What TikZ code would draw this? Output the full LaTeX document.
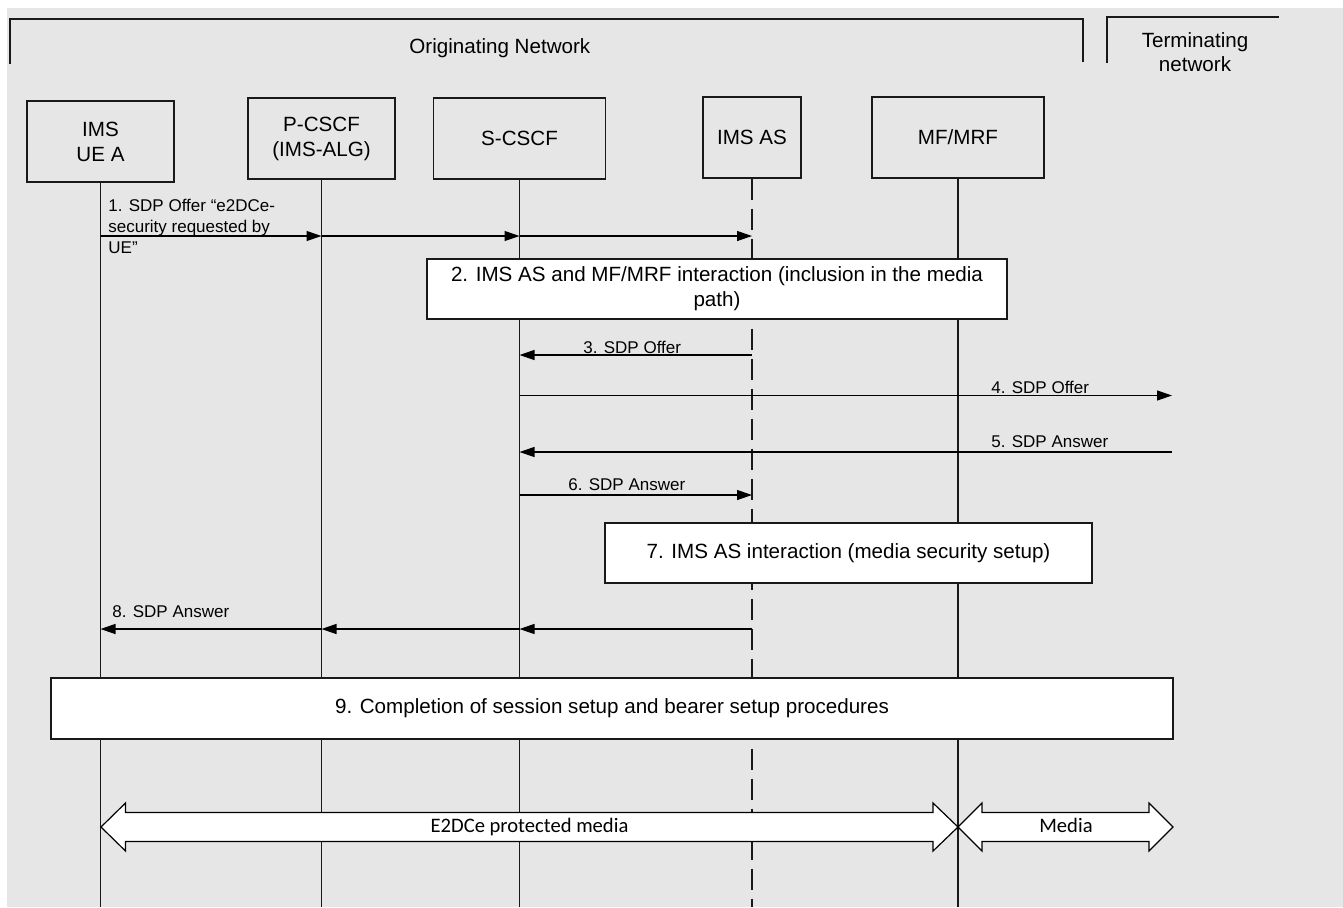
\documentclass[tikz,border=0pt]{standalone}
\usepackage{fontspec}
\setmainfont{Liberation Sans}
\newfontfamily\calib{Carlito}
\usetikzlibrary{arrows.meta}
\definecolor{bgc}{RGB}{230,230,230}
\definecolor{ln}{RGB}{25,25,25}
\begin{document}
\begin{tikzpicture}[x=0.5pt,y=-0.5pt,
  actor/.style={draw=ln, line width=0.6pt, inner sep=0pt, align=center, font=\fontsize{10.3}{12.5}\selectfont},
  stepbox/.style={draw=ln, fill=white, line width=0.6pt, inner sep=0pt, align=center, font=\fontsize{10.3}{12.5}\selectfont},
  life/.style={draw=ln, line width=0.65pt},
  msg/.style={draw=black, line width=0.6pt, -{Triangle[length=7.5pt,width=5pt]}},
  lbl/.style={font=\fontsize{8.5}{10.5}\selectfont, inner sep=0pt, anchor=base west},
  hdr/.style={font=\fontsize{10.3}{12}\selectfont, inner sep=0pt},
  blk/.style={draw=black, fill=white, line width=0.6pt, line join=miter},
  blktxt/.style={font=\calib\fontsize{10.3}{12}\selectfont, inner sep=0pt, anchor=base}
]
\useasboundingbox (0,0) rectangle (1343,907);
\fill[bgc] (7,8) rectangle (1343,907);

% network brackets
\draw[ln, line width=0.6pt] (10,64) -- (10,19) -- (1083,19) -- (1083,62);
\draw[ln, line width=0.6pt] (1107,63) -- (1107,17) -- (1279,17);
\node[hdr, anchor=base west] (orig) at (409,53) {Originating Network};
\node[hdr, align=center] (term) at (1195,52) {Terminating\\network};

% actors
\node[actor, minimum width=73.5pt, minimum height=40.5pt] (ue) at (100.5,141.5) {IMS\\UE A};
\node[actor, minimum width=73.5pt, minimum height=40.5pt] (pc) at (321.5,138.5) {P-CSCF\\(IMS-ALG)};
\node[actor, minimum width=86pt, minimum height=40.5pt] (sc) at (519.5,138.5) {S-CSCF};
\node[actor, minimum width=49pt, minimum height=40.5pt] (as) at (752,137.5) {IMS AS};
\node[actor, minimum width=86pt, minimum height=40.5pt] (mf) at (958,137.5) {MF/MRF};

\coordinate (bot) at (0,907);
\coordinate (tR) at (1172,0);

% lifelines
\draw[life] (ue.south) -- (ue.south |- bot);
\draw[life] (pc.south) -- (pc.south |- bot);
\draw[life] (sc.south) -- (sc.south |- bot);
\draw[life, dash pattern=on 10.5pt off 4.5pt] (as.south) -- (as.south |- bot);
\draw[life] (mf.south) -- (mf.south |- bot);

% message rows
\coordinate (m1) at (0,236);
\coordinate (m3) at (0,355);
\coordinate (m4) at (0,395.5);
\coordinate (m5) at (0,452);
\coordinate (m6) at (0,495);
\coordinate (m8) at (0,629);

% 1
\draw[msg] (ue.south |- m1) -- (pc.south |- m1);
\draw[msg] (pc.south |- m1) -- (sc.south |- m1);
\draw[msg] (sc.south |- m1) -- (as.south |- m1);
\node[lbl, align=left, anchor=north west] (l1) at (108,199) {1. SDP Offer “e2DCe-\\security requested by\\UE”};

% 2
\node[stepbox, minimum width=290pt, minimum height=30pt] (b2) at (717,289) {2. IMS AS and MF/MRF interaction (inclusion in the media\\path)};

% 3
\draw[msg] (as.south |- m3) -- (sc.south |- m3);
\node[lbl] (l3) at (583,353) {3. SDP Offer};

% 4
\draw[msg] (sc.south |- m4) -- (tR |- m4);
\node[lbl] (l4) at (991,393.5) {4. SDP Offer};

% 5
\draw[msg] (tR |- m5) -- (sc.south |- m5);
\node[lbl] (l5) at (991,447) {5. SDP Answer};

% 6
\draw[msg] (sc.south |- m6) -- (as.south |- m6);
\node[lbl] (l6) at (568,490) {6. SDP Answer};

% 7
\node[stepbox, minimum width=243.5pt, minimum height=30pt] (b7) at (848.5,553) {7. IMS AS interaction (media security setup)};

% 8
\draw[msg] (as.south |- m8) -- (sc.south |- m8);
\draw[msg] (sc.south |- m8) -- (pc.south |- m8);
\draw[msg] (pc.south |- m8) -- (ue.south |- m8);
\node[lbl] (l8) at (112,617) {8. SDP Answer};

% 9
\node[stepbox, minimum width=561pt, minimum height=30.5pt] (b9) at (612,708.5) {9. Completion of session setup and bearer setup procedures};

% media block arrows
\draw[blk] (101,827) -- (125.5,803) -- (125.5,812.5) -- (933,812.5) -- (933,803) -- (958,827)
  -- (933,851) -- (933,841.5) -- (125.5,841.5) -- (125.5,851) -- cycle;
\draw[blk] (958,827) -- (982,803) -- (982,812.5) -- (1149,812.5) -- (1149,803) -- (1173,827)
  -- (1149,851) -- (1149,841.5) -- (982,841.5) -- (982,851) -- cycle;
\node[blktxt] (e2d) at (529.5,832.5) {E2DCe protected media};
\node[blktxt] (med) at (1066,832.5) {Media};
\end{tikzpicture}
\end{document}
